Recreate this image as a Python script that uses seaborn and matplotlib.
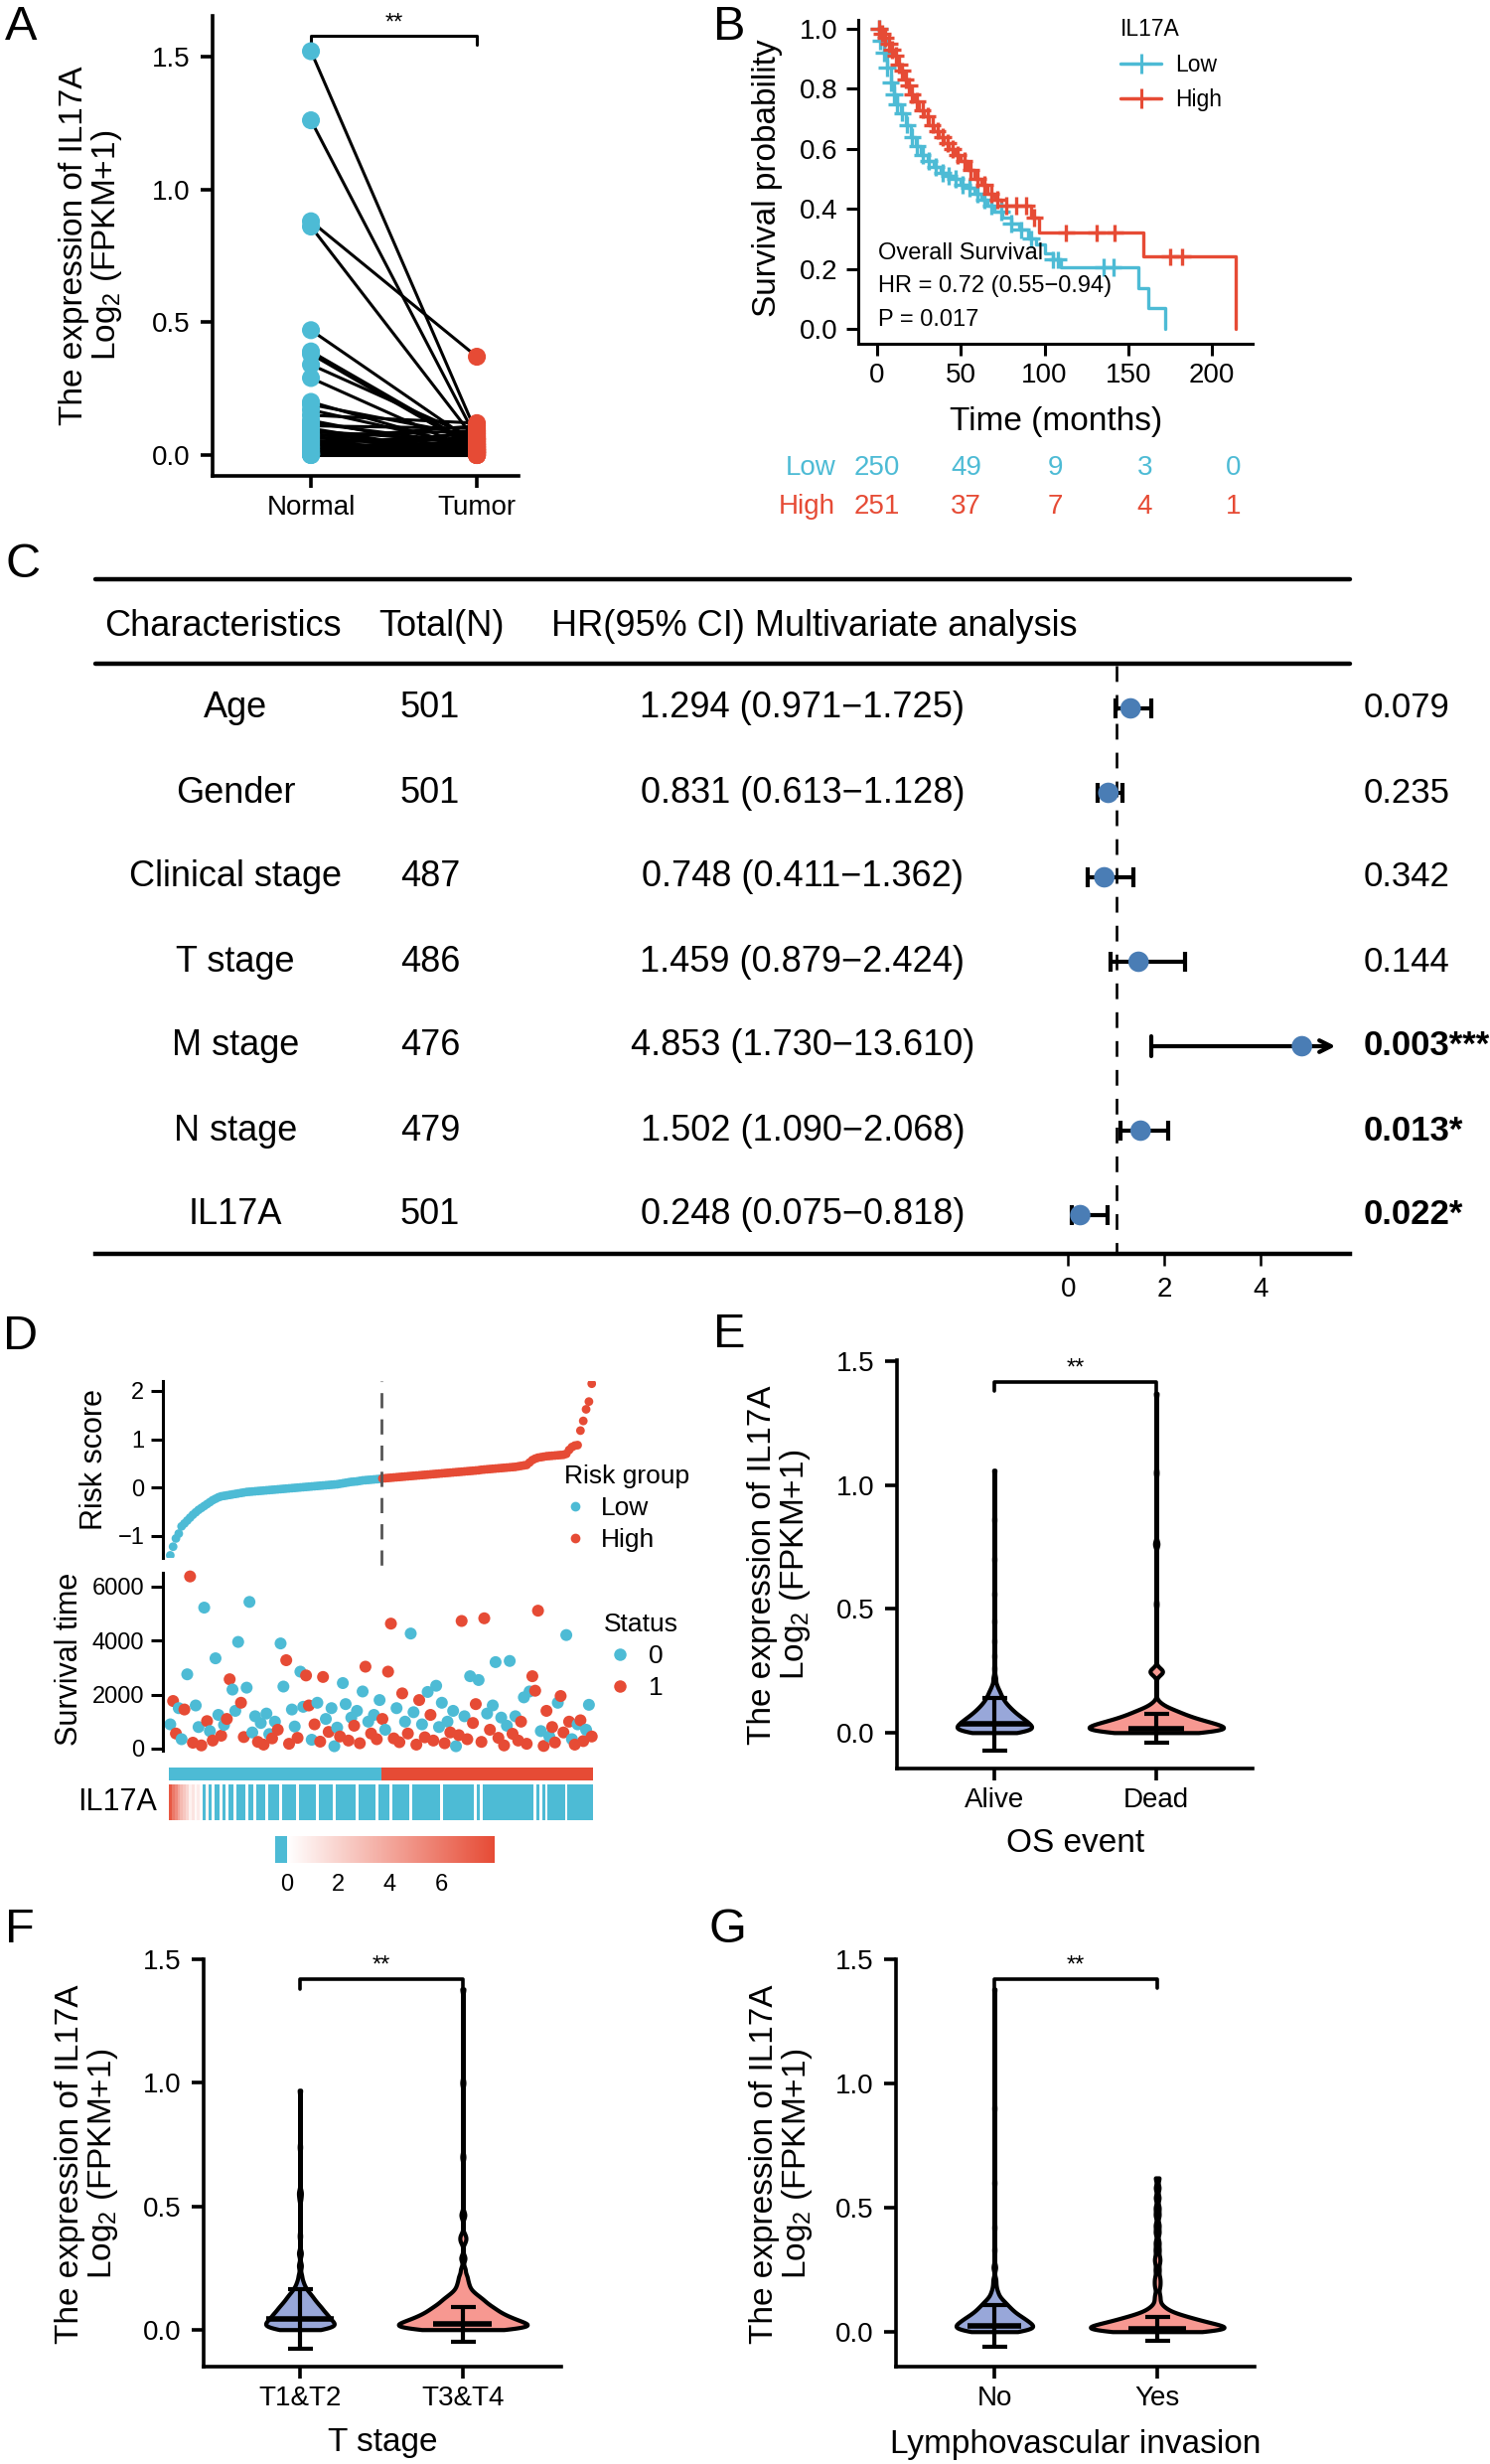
import numpy as np
import pandas as pd
import matplotlib
matplotlib.use("Agg")
import matplotlib.pyplot as plt
from matplotlib.colors import LinearSegmentedColormap, ListedColormap
from matplotlib.lines import Line2D
import seaborn as sns

# ---------------- data ----------------
# A: paired normal / tumor IL17A expression
normal_expr = [1.52, 1.26, 0.88, 0.86, 0.47, 0.39, 0.38, 0.34, 0.29, 0.20,
               0.19, 0.17, 0.15, 0.13, 0.12, 0.11, 0.10, 0.09, 0.08, 0.075,
               0.07, 0.065, 0.06, 0.055, 0.05, 0.045, 0.04, 0.035, 0.03, 0.03,
               0.025, 0.02, 0.02, 0.015, 0.01, 0.01, 0.008, 0.005, 0.004, 0.003,
               0.002, 0.001, 0.0, 0.0]
tumor_expr = [0.08, 0.06, 0.37, 0.05, 0.04, 0.03, 0.02, 0.06, 0.01, 0.02,
              0.07, 0.03, 0.12, 0.01, 0.04, 0.10, 0.00, 0.05, 0.02, 0.09,
              0.01, 0.03, 0.11, 0.00, 0.06, 0.02, 0.08, 0.01, 0.04, 0.00,
              0.03, 0.07, 0.01, 0.05, 0.02, 0.00, 0.09, 0.03, 0.01, 0.06,
              0.02, 0.04, 0.00, 0.01]

# B: Kaplan-Meier steps (months, survival) and censor times
km_low_t = [0, 2, 4, 6, 8, 10, 12, 14, 17, 20, 23, 26, 30, 34, 38, 42, 46, 50, 54, 58,
            62, 66, 70, 75, 80, 85, 90, 95, 100, 105, 110, 156, 162, 172]
km_low_s = [1.0, 0.96, 0.92, 0.87, 0.82, 0.78, 0.75, 0.72, 0.68, 0.64, 0.61, 0.58, 0.56,
            0.54, 0.52, 0.51, 0.50, 0.48, 0.47, 0.45, 0.43, 0.41, 0.39, 0.37, 0.35, 0.33,
            0.30, 0.28, 0.25, 0.23, 0.206, 0.137, 0.069, 0.0]
km_high_t = [0, 2, 4, 6, 8, 10, 12, 14, 16, 18, 20, 22, 25, 28, 31, 34, 37, 40, 43, 46,
             50, 54, 58, 62, 66, 70, 74, 92, 97, 159, 214]
km_high_s = [1.0, 0.985, 0.97, 0.95, 0.93, 0.91, 0.88, 0.86, 0.83, 0.81, 0.78, 0.76, 0.73,
             0.71, 0.68, 0.66, 0.64, 0.62, 0.60, 0.58, 0.56, 0.53, 0.50, 0.48, 0.45, 0.43,
             0.41, 0.37, 0.32, 0.24, 0.0]
cens_low = [1, 2, 4, 6, 8, 10, 12, 15, 18, 21, 24, 27, 31, 35, 39, 43, 47, 51, 55, 60,
            64, 68, 74, 80, 86, 92, 105, 108, 135, 141]
cens_high = [1, 3, 5, 7, 9, 11, 13, 15, 17, 19, 21, 24, 27, 30, 33, 36, 39, 42, 45, 48,
             52, 56, 60, 64, 68, 72, 77, 83, 89, 94, 113, 131, 142, 175, 182]
risk_times = [0, 50, 100, 150, 200]
at_risk_low = [250, 49, 9, 3, 0]
at_risk_high = [251, 37, 7, 4, 1]
km_text = ["Overall Survival", "HR = 0.72 (0.55\u22120.94)", "P = 0.017"]

# C: multivariate Cox table
characteristics = ["Age", "Gender", "Clinical stage", "T stage", "M stage", "N stage", "IL17A"]
total_n = [501, 501, 487, 486, 476, 479, 501]
hr = [1.294, 0.831, 0.748, 1.459, 4.853, 1.502, 0.248]
hr_lo = [0.971, 0.613, 0.411, 0.879, 1.730, 1.090, 0.075]
hr_hi = [1.725, 1.128, 1.362, 2.424, 13.610, 2.068, 0.818]
p_text = ["0.079", "0.235", "0.342", "0.144", "0.003***", "0.013*", "0.022*"]
p_bold = [False, False, False, False, True, True, True]

# D: risk score (sorted), survival time (days), status, IL17A expression
risk_low = [-1.40, -1.22, -1.05, -0.95, -0.80, -0.74, -0.68, -0.62, -0.56, -0.51,
            -0.46, -0.42, -0.38, -0.34, -0.30, -0.26, -0.23, -0.20, -0.18, -0.17,
            -0.16, -0.15, -0.14, -0.13, -0.12, -0.11, -0.10, -0.09, -0.085, -0.08,
            -0.075, -0.07, -0.065, -0.06, -0.055, -0.05, -0.045, -0.04, -0.035, -0.03,
            -0.025, -0.02, -0.015, -0.01, -0.005, 0.00, 0.005, 0.01, 0.015, 0.02,
            0.025, 0.03, 0.035, 0.04, 0.045, 0.05, 0.055, 0.06, 0.065, 0.07,
            0.08, 0.09, 0.10, 0.11, 0.12, 0.125, 0.13, 0.14, 0.15, 0.155,
            0.16, 0.165, 0.17, 0.175, 0.18]
risk_high = [0.19, 0.195, 0.20, 0.205, 0.21, 0.215, 0.22, 0.225, 0.23, 0.235,
             0.24, 0.245, 0.25, 0.255, 0.26, 0.265, 0.27, 0.275, 0.28, 0.285,
             0.29, 0.295, 0.30, 0.305, 0.31, 0.315, 0.32, 0.325, 0.33, 0.335,
             0.34, 0.345, 0.35, 0.355, 0.36, 0.37, 0.375, 0.38, 0.385, 0.39,
             0.395, 0.40, 0.405, 0.41, 0.415, 0.42, 0.425, 0.43, 0.44, 0.45,
             0.46, 0.47, 0.52, 0.57, 0.60, 0.62, 0.63, 0.64, 0.65, 0.655,
             0.66, 0.665, 0.67, 0.675, 0.68, 0.70, 0.78, 0.84, 0.87, 0.88,
             1.18, 1.38, 1.62, 1.78, 2.15]
surv_days = [900, 1765, 560, 1500, 350, 1450, 2753, 6380, 220, 1600,
             800, 120, 5225, 1020, 650, 300, 3346, 1250, 480, 880,
             1100, 2570, 2188, 1400, 3953, 1700, 430, 2259, 5436, 600,
             1200, 250, 950, 150, 1300, 540, 380, 1000, 700, 3897,
             2300, 3276, 180, 1450, 820, 400, 2852, 1550, 2711, 1600,
             330, 900, 1700, 260, 2655, 1100, 620, 1500, 90, 780,
             450, 2429, 1650, 300, 1150, 850, 1400, 200, 2118, 3036,
             1000, 560, 1250, 350, 1800,
             1100, 700, 2852, 4631, 380, 1500, 240, 2047, 1000, 560,
             4264, 1350, 150, 1800, 900, 420, 2100, 1250, 300, 2330,
             800, 1700, 200, 1000, 600, 1400, 90, 500, 4730, 1200,
             350, 2683, 950, 1650, 2542, 250, 4829, 1300, 700, 1600,
             3205, 400, 1150, 120, 850, 3248, 550, 1200, 300, 1000,
             1900, 180, 2118, 2683, 2146, 5111, 650, 100, 1400, 450,
             800, 230, 1700, 1949, 600, 4208, 1000, 350, 150, 900,
             1050, 280, 700, 1624, 450]
surv_status = [0, 1, 1, 0, 0, 1, 0, 1, 1, 0,
               0, 1, 0, 1, 0, 1, 0, 0, 1, 0,
               1, 1, 0, 0, 0, 1, 1, 0, 0, 0,
               0, 1, 0, 1, 0, 0, 1, 0, 1, 0,
               0, 1, 1, 0, 0, 1, 0, 0, 1, 1,
               0, 1, 0, 1, 1, 0, 1, 0, 0, 0,
               1, 0, 0, 1, 0, 1, 0, 1, 0, 1,
               0, 1, 0, 1, 0,
               1, 0, 1, 1, 1, 0, 1, 1, 0, 1,
               0, 0, 1, 1, 0, 1, 0, 1, 1, 0,
               0, 0, 1, 0, 1, 0, 0, 1, 1, 0,
               1, 0, 1, 1, 0, 1, 1, 0, 1, 0,
               0, 1, 0, 1, 0, 0, 1, 0, 1, 1,
               0, 1, 0, 1, 1, 1, 0, 1, 1, 0,
               1, 1, 0, 1, 1, 0, 1, 0, 1, 0,
               1, 1, 0, 0, 1]
il17a_expr = [7.5, 6.0, 5.2, 4.0, 3.1, 2.5, 1.8, 0.6, 1.2, 0.3, 0.9, 0.2, 0, 0.4, 0,
              0.2, 0, 0, 0.3, 0, 0.1, 0, 0, 0.2, 0, 0, 0, 0.1, 0, 0,
              0.2, 0, 0, 0, 0.1, 0, 0, 0, 0, 0.1, 0, 0, 0, 0, 0,
              0.2, 0, 0, 0, 0, 0, 0, 0.1, 0, 0, 0, 0, 0, 0.1, 0,
              0, 0, 0, 0, 0, 0, 0.1, 0, 0, 0, 0, 0, 0, 0.1, 0,
              0, 0, 0, 0.1, 0, 0, 0, 0, 0, 0, 0.1, 0, 0, 0, 0,
              0, 0, 0, 0, 0, 0, 0.1, 0, 0, 0, 0, 0, 0, 0, 0,
              0, 0, 0, 0.1, 0, 0.1, 0, 0, 0, 0, 0, 0, 0, 0, 0,
              0, 0, 0, 0, 0, 0, 0, 0, 0, 0.1, 0, 0.1, 0, 0.1, 0,
              0, 0, 0, 0, 0, 0.1, 0, 0, 0, 0, 0, 0, 0, 0, 0]
cbar_ticks = [0, 2, 4, 6]

# E-G: violin samples (value + how many patients) and mean / sd of the error bars
os_cats = ["Alive", "Dead"]
os_alive = [0.001, 0.003, 0.006, 0.008, 0.010, 0.013, 0.015, 0.018, 0.020, 0.023,
            0.025, 0.028, 0.031, 0.033, 0.036, 0.039, 0.042, 0.045, 0.048, 0.051,
            0.054, 0.058, 0.061, 0.065, 0.069, 0.073, 0.077, 0.082, 0.087, 0.092,
            0.098, 0.104, 0.111, 0.119, 0.128, 0.139, 0.152, 0.169, 0.19, 0.22,
            0.26, 0.31, 0.37, 0.45, 0.56, 0.70, 0.86, 1.06]
os_alive_n = [5, 5, 5, 5, 5, 5, 5, 5, 5, 5,
              5, 5, 5, 5, 5, 5, 5, 5, 5, 5,
              5, 5, 5, 5, 5, 5, 5, 5, 5, 5,
              5, 5, 5, 5, 5, 5, 5, 5, 3, 2,
              1, 1, 1, 1, 1, 1, 1, 1]
os_dead = [0.001, 0.002, 0.004, 0.006, 0.007, 0.009, 0.011, 0.013, 0.014, 0.016,
           0.018, 0.020, 0.022, 0.024, 0.026, 0.028, 0.030, 0.032, 0.034, 0.036,
           0.039, 0.041, 0.044, 0.046, 0.049, 0.052, 0.055, 0.059, 0.062, 0.066,
           0.070, 0.075, 0.080, 0.086, 0.092, 0.100, 0.110, 0.122, 0.24, 0.245,
           0.25, 0.255, 0.52, 0.76, 0.765, 1.05, 1.37]
os_dead_n = [5, 5, 5, 5, 5, 5, 5, 5, 5, 5,
             5, 5, 5, 5, 5, 5, 5, 5, 5, 5,
             5, 5, 5, 5, 5, 5, 5, 5, 5, 5,
             5, 5, 5, 5, 5, 4, 3, 2, 2, 2,
             2, 2, 1, 1, 1, 1, 1]
os_mean = [0.035, 0.018]
os_sd = [0.105, 0.058]

t_cats = ["T1&T2", "T3&T4"]
t_12 = [0.001, 0.004, 0.007, 0.010, 0.013, 0.016, 0.019, 0.022, 0.025, 0.029,
        0.032, 0.035, 0.039, 0.042, 0.046, 0.050, 0.054, 0.058, 0.062, 0.066,
        0.070, 0.075, 0.080, 0.085, 0.090, 0.095, 0.101, 0.107, 0.114, 0.121,
        0.129, 0.138, 0.148, 0.160, 0.175, 0.195, 0.22, 0.26, 0.31, 0.38,
        0.53, 0.55, 0.56, 0.74, 0.97]
t_12_n = [5, 5, 5, 5, 5, 5, 5, 5, 5, 5,
          5, 5, 5, 5, 5, 5, 5, 5, 5, 5,
          5, 5, 5, 5, 5, 5, 5, 5, 5, 5,
          5, 5, 5, 4, 4, 3, 2, 2, 2, 1,
          1, 1, 1, 1, 1]
t_34 = [0.001, 0.003, 0.005, 0.007, 0.009, 0.011, 0.013, 0.016, 0.018, 0.020,
        0.023, 0.025, 0.028, 0.030, 0.033, 0.036, 0.039, 0.042, 0.045, 0.048,
        0.052, 0.055, 0.059, 0.063, 0.067, 0.071, 0.076, 0.081, 0.085, 0.091,
        0.096, 0.102, 0.109, 0.116, 0.124, 0.132, 0.142, 0.152, 0.165, 0.179,
        0.196, 0.217, 0.245, 0.29, 0.36, 0.38, 0.46, 0.47, 0.70, 1.00, 1.38]
t_34_n = [5, 5, 5, 5, 5, 5, 5, 5, 5, 5,
          5, 5, 5, 5, 5, 5, 5, 5, 5, 5,
          5, 5, 5, 5, 5, 5, 5, 5, 5, 5,
          5, 5, 5, 5, 5, 5, 4, 4, 3, 3,
          3, 3, 2, 2, 2, 2, 1, 1, 1, 1, 1]
t_mean = [0.044, 0.022]
t_sd = [0.122, 0.072]

lvi_cats = ["No", "Yes"]
lvi_no = [0.001, 0.003, 0.005, 0.008, 0.010, 0.012, 0.015, 0.017, 0.020, 0.022,
          0.025, 0.027, 0.030, 0.032, 0.035, 0.038, 0.041, 0.044, 0.047, 0.050,
          0.053, 0.057, 0.060, 0.064, 0.068, 0.072, 0.077, 0.082, 0.087, 0.093,
          0.099, 0.106, 0.114, 0.123, 0.134, 0.147, 0.163, 0.185, 0.21, 0.26,
          0.33, 0.42, 0.60, 0.90, 1.38]
lvi_no_n = [5, 5, 5, 5, 5, 5, 5, 5, 5, 5,
            5, 5, 5, 5, 5, 5, 5, 5, 5, 5,
            5, 5, 5, 5, 5, 5, 5, 5, 5, 5,
            5, 5, 5, 5, 4, 3, 3, 2, 2, 2,
            1, 1, 1, 1, 1]
lvi_yes = [0.001, 0.002, 0.004, 0.005, 0.007, 0.009, 0.010, 0.012, 0.014, 0.016,
           0.018, 0.020, 0.022, 0.024, 0.026, 0.028, 0.031, 0.033, 0.036, 0.039,
           0.042, 0.045, 0.048, 0.052, 0.056, 0.060, 0.065, 0.071, 0.078, 0.087,
           0.098, 0.11, 0.13, 0.15, 0.18, 0.20, 0.22, 0.25, 0.28, 0.30,
           0.33, 0.36, 0.40, 0.43, 0.47, 0.50, 0.54, 0.58, 0.62]
lvi_yes_n = [5, 5, 5, 5, 5, 5, 5, 5, 5, 5,
             5, 5, 5, 5, 5, 5, 5, 5, 5, 5,
             5, 5, 5, 5, 5, 5, 5, 5, 4, 4,
             3, 2, 2, 2, 2, 2, 2, 2, 2, 2,
             2, 2, 2, 2, 2, 2, 2, 2, 2]
lvi_mean = [0.025, 0.012]
lvi_sd = [0.085, 0.049]

# ---------------- style ----------------
BLUE = "#4DBBD5"
RED = "#E64B35"
DOT = "#4A7DB5"
V_FILL = ["#98A7D9", "#F79891"]
W, H = 1500, 2480

sns.set_theme(style="ticks", rc={"axes.edgecolor": "black", "xtick.color": "black",
                                 "ytick.color": "black", "text.color": "black",
                                 "axes.labelcolor": "black"})
plt.rcParams["font.family"] = ["Liberation Sans", "DejaVu Sans"]
plt.rcParams["mathtext.fontset"] = "custom"
plt.rcParams["mathtext.rm"] = "Liberation Sans"
plt.rcParams["mathtext.default"] = "regular"

EXPR_LABEL = "The expression of IL17A\n$\\mathregular{Log_{2}}$ (FPKM+1)"


def box(l, t, r, b):
    return [l / W, 1 - b / H, (r - l) / W, (b - t) / H]


def ftext(x, y, s, **kw):
    fig.text(x / W, 1 - y / H, s, **kw)


def style_axes(ax, lw=2.6, size=20, xpad=5, ypad=8):
    sns.despine(ax=ax)
    for s in ["left", "bottom"]:
        ax.spines[s].set_linewidth(lw)
    ax.tick_params(axis="both", length=8.5, width=lw, labelsize=size)
    ax.tick_params(axis="x", pad=xpad)
    ax.tick_params(axis="y", pad=ypad)
    ax.set_xlabel("")
    ax.set_ylabel("")


fig = plt.figure(figsize=(15, 24.8), dpi=100)

# ---------------- A ----------------
axA = fig.add_axes(box(214, 16, 522, 479))
n = len(normal_expr)
dfA = pd.DataFrame({"pair": list(range(n)) * 2,
                    "pos": [0] * n + [1] * n,
                    "value": normal_expr + tumor_expr,
                    "group": ["Normal"] * n + ["Tumor"] * n})
sns.lineplot(data=dfA, x="pos", y="value", units="pair", estimator=None,
             color="black", lw=2.2, ax=axA, legend=False)
sns.scatterplot(data=dfA, x="pos", y="value", hue="group",
                palette={"Normal": BLUE, "Tumor": RED}, s=170, edgecolor="none",
                ax=axA, legend=False, zorder=3)
axA.set_xlim(-0.593, 1.251)
axA.set_ylim(-0.0786, 1.653)
axA.set_xticks([0, 1], ["Normal", "Tumor"])
axA.set_yticks([0, 0.5, 1.0, 1.5], ["0.0", "0.5", "1.0", "1.5"])
style_axes(axA)
axA.plot([0, 0, 1, 1], [1.545, 1.58, 1.58, 1.545], color="black", lw=2.2, clip_on=False)
axA.text(0.5, 1.583, "**", ha="center", va="bottom", fontsize=17)
ftext(92, 247, EXPR_LABEL, rotation=90, ha="center", va="center", fontsize=24,
      linespacing=1.0, multialignment="center")

# ---------------- B ----------------
axB = fig.add_axes(box(864, 20, 1261, 346))
km_pal = {"Low": BLUE, "High": RED}
dfKM = pd.DataFrame({"time": km_low_t + km_high_t,
                     "surv": km_low_s + km_high_s,
                     "group": ["Low"] * len(km_low_t) + ["High"] * len(km_high_t)})
sns.lineplot(data=dfKM, x="time", y="surv", hue="group", palette=km_pal,
             estimator=None, drawstyle="steps-post", lw=2.4, ax=axB, legend=False)


def surv_at(times, surv, t):
    i = np.searchsorted(times, t, side="right") - 1
    return surv[i]


cens_rows = []
for g, ct, tt, ss in [("Low", cens_low, km_low_t, km_low_s), ("High", cens_high, km_high_t, km_high_s)]:
    for c in ct:
        cens_rows.append({"time": c, "surv": surv_at(tt, ss, c), "group": g})
dfCens = pd.DataFrame(cens_rows)
sns.scatterplot(data=dfCens, x="time", y="surv", hue="group", palette=km_pal,
                marker="+", s=160, linewidth=2.4, ax=axB, legend=False, zorder=3)
axB.set_xlim(-11.3, 224.3)
axB.set_ylim(-0.05, 1.03)
axB.set_xticks(risk_times)
axB.set_yticks([0, 0.2, 0.4, 0.6, 0.8, 1.0], ["0.0", "0.2", "0.4", "0.6", "0.8", "1.0"])
style_axes(axB, lw=2.2, ypad=6)
for txt, yy in zip(km_text, [255, 288, 322]):
    ftext(884, yy, txt, ha="left", va="center", fontsize=17)
handles = [Line2D([0], [0], color=BLUE, lw=2.5, marker="+", ms=14, mew=2.2),
           Line2D([0], [0], color=RED, lw=2.5, marker="+", ms=14, mew=2.2)]
axB.legend(handles, ["Low", "High"], title="IL17A", loc="upper left",
           bbox_to_anchor=(1128 / W, 1 - 18 / H), bbox_transform=fig.transFigure,
           frameon=False, fontsize=16.5, title_fontsize=16.5, alignment="left",
           handlelength=1.8, handletextpad=0.6, labelspacing=0.55, borderpad=0,
           borderaxespad=0)
ftext(772, 179, "Survival probability", rotation=90, ha="center", va="center", fontsize=24)
ftext(1063, 424, "Time (months)", ha="center", va="center", fontsize=24)

# risk table
axT = fig.add_axes(box(864, 450, 1261, 530))
axT.set_xlim(-10.6, 210.6)
axT.set_ylim(530, 450)
axT.axis("off")
for t, a, b in zip(risk_times, at_risk_low, at_risk_high):
    axT.text(t, 471, str(a), color=BLUE, ha="center", va="center", fontsize=20)
    axT.text(t, 510, str(b), color=RED, ha="center", va="center", fontsize=20)
axT.text(-23.4, 471, "Low", color=BLUE, ha="right", va="center", fontsize=20, clip_on=False)
axT.text(-23.4, 510, "High", color=RED, ha="right", va="center", fontsize=20, clip_on=False)

# ---------------- C ----------------
row_y = [713 + 85 * i for i in range(len(characteristics))]
tab = fig.add_axes(box(96, 583, 1359, 1262))
tab.set_xlim(96, 1359)
tab.set_ylim(1262, 583)
tab.axis("off")
tab.text(105, 630, "Characteristics", ha="left", va="center", fontsize=26)
tab.text(381, 630, "Total(N)", ha="left", va="center", fontsize=26)
tab.text(555, 630, "HR(95% CI) Multivariate analysis", ha="left", va="center", fontsize=26)
for i, yy in enumerate(row_y):
    tab.text(237, yy, characteristics[i], ha="center", va="center", fontsize=26)
    tab.text(433, yy, str(total_n[i]), ha="center", va="center", fontsize=26)
    tab.text(808, yy, f"{hr[i]:.3f} ({hr_lo[i]:.3f}\u2212{hr_hi[i]:.3f})",
             ha="center", va="center", fontsize=26)
    tab.text(1373, yy, p_text[i], ha="left", va="center", fontsize=25,
             fontweight="bold" if p_bold[i] else "normal", clip_on=False)

fx = fig.add_axes(box(96, 583, 1359, 1262))
fx.patch.set_alpha(0)
for s in ["top", "right", "left"]:
    fx.spines[s].set_visible(False)
fx.spines["bottom"].set_linewidth(3.2)
fx.axhline(583, color="black", lw=3.2, clip_on=False)
fx.axhline(668, color="black", lw=3.2, clip_on=False)
fx.plot([1, 1], [670, 1262], color="black", lw=1.9, ls=(0, (6, 5)))
xmax = 5.5
for i, yy in enumerate(row_y):
    if hr_hi[i] <= xmax:
        fx.errorbar(hr[i], yy, xerr=[[hr[i] - hr_lo[i]], [hr_hi[i] - hr[i]]], fmt="none",
                    ecolor="black", elinewidth=3, capsize=7, capthick=3, zorder=3)
    else:
        fx.annotate("", xy=(xmax + 0.05, yy), xytext=(hr_lo[i], yy),
                    arrowprops=dict(arrowstyle="->,head_length=0.7,head_width=0.35",
                                    lw=3, color="black", shrinkA=0, shrinkB=0), zorder=3)
        fx.plot([hr_lo[i], hr_lo[i]], [yy - 10, yy + 10], color="black", lw=3, zorder=3)
sns.scatterplot(x=hr, y=row_y, color=DOT, s=220, edgecolor="none", ax=fx, zorder=5, legend=False)
fx.set_xlim(-20.21, 5.85)
fx.set_ylim(1262, 583)
fx.set_yticks([])
fx.set_xticks([0, 2, 4])
fx.tick_params(axis="x", length=8.6, width=1.8, labelsize=20, pad=8)
fx.set_xlabel("")
fx.set_ylabel("")

# ---------------- D ----------------
n_low, n_high = len(risk_low), len(risk_high)
idx = np.arange(n_low + n_high)
risk_group = ["Low"] * n_low + ["High"] * n_high
xl = (-2.6, n_low + n_high + 0.5)

axR = fig.add_axes(box(164, 1390, 600, 1568))
sns.scatterplot(x=idx, y=risk_low + risk_high, hue=risk_group, palette=km_pal,
                s=40, edgecolor="none", ax=axR, legend=False)
axR.set_xlim(*xl)
axR.set_ylim(-1.452, 2.205)
axR.set_yticks([-1, 0, 1, 2], ["\u22121", "0", "1", "2"])
axR.set_xticks([])
style_axes(axR, lw=2.2, size=17, ypad=5)
axR.spines["bottom"].set_visible(False)
axR.axvline(n_low - 0.5, ymin=-1.08, ymax=1, color="#555555", lw=2, ls=(0, (5.5, 4)),
            clip_on=False)
lh = [Line2D([0], [0], ls="none", marker="o", ms=7, color=BLUE, mec="none"),
      Line2D([0], [0], ls="none", marker="o", ms=7, color=RED, mec="none")]
axR.legend(lh, ["Low", "High"], title="Risk group", loc="upper left",
           bbox_to_anchor=(568 / W, 1 - 1474 / H), bbox_transform=fig.transFigure,
           frameon=False, fontsize=19, title_fontsize=19, alignment="left",
           handlelength=0.8, handletextpad=0.6, labelspacing=0.3, borderpad=0,
           borderaxespad=0)
ftext(95, 1469, "Risk score", rotation=90, ha="center", va="center", fontsize=22)

axS = fig.add_axes(box(164, 1583, 600, 1762))
sns.scatterplot(x=idx, y=surv_days, hue=surv_status, palette={0: BLUE, 1: RED},
                s=75, edgecolor="none", ax=axS, legend=False, clip_on=False)
axS.set_xlim(*xl)
axS.set_ylim(-74, 6515)
axS.set_yticks([0, 2000, 4000, 6000])
axS.set_xticks([])
style_axes(axS, lw=2.2, size=17, ypad=5)
axS.spines["bottom"].set_visible(False)
sh = [Line2D([0], [0], ls="none", marker="o", ms=9, color=BLUE, mec="none"),
      Line2D([0], [0], ls="none", marker="o", ms=9, color=RED, mec="none")]
axS.legend(sh, ["0", "1"], title="Status", loc="upper left",
           bbox_to_anchor=(608 / W, 1 - 1623 / H), bbox_transform=fig.transFigure,
           frameon=False, fontsize=19, title_fontsize=19, alignment="left",
           handlelength=1.2, handletextpad=0.5, labelspacing=0.3, borderpad=0,
           borderaxespad=0)
ftext(70, 1670, "Survival time", rotation=90, ha="center", va="center", fontsize=22)

axG = fig.add_axes(box(170, 1779, 597, 1792))
grp_codes = np.array([[0] * n_low + [1] * n_high])
sns.heatmap(grp_codes, cmap=ListedColormap([BLUE, RED]), vmin=0, vmax=1, cbar=False,
            xticklabels=False, yticklabels=False, ax=axG)

axH = fig.add_axes(box(170, 1796, 597, 1832))
axH.set_facecolor(BLUE)
expr_cmap = LinearSegmentedColormap.from_list("il17a", ["#FFFFFF", RED])
expr_cmap.set_under(BLUE)
expr = np.array(il17a_expr, dtype=float)
expr_show = np.where(expr > 0, expr, np.nan)[None, :]
cax = fig.add_axes(box(277, 1848, 498, 1875))
sns.heatmap(expr_show, cmap=expr_cmap, vmin=0, vmax=8.07, cbar_ax=cax,
            cbar_kws=dict(orientation="horizontal", extend="min", extendrect=True,
                          extendfrac=0.057, ticks=cbar_ticks),
            xticklabels=False, yticklabels=False, ax=axH)
cb = axH.collections[0].colorbar
cb.outline.set_visible(False)
cax.tick_params(axis="x", direction="in", color="white", length=6, width=1.5,
                labelsize=17, pad=8, top=True, labeltop=False)
ftext(158, 1814, "IL17A", ha="right", va="center", fontsize=22)


# ---------------- E, F, G ----------------
def violin_panel(ax, cats, samples, counts, means, sds, widths, mline, bracket_y, legs):
    for i, (cat, vals, cnt) in enumerate(zip(cats, samples, counts)):
        obs = np.repeat(vals, cnt)
        sns.violinplot(x=[cat] * len(obs), y=obs, order=cats, color=V_FILL[i],
                       saturation=1, linecolor="black", linewidth=3, inner=None,
                       cut=0, width=widths[i], bw_method=0.013 / np.std(obs, ddof=1),
                       gridsize=800, ax=ax)
    ax.errorbar([0, 1], means, yerr=sds, fmt="none", ecolor="black", elinewidth=3,
                capsize=9, capthick=3, zorder=6)
    for i, m in enumerate(means):
        ax.hlines(m, i - mline[i] / 2, i + mline[i] / 2, color="black", lw=4, zorder=6)
    ax.plot([0, 0, 1, 1], [legs[0], bracket_y, bracket_y, legs[1]], color="black",
            lw=2.6, clip_on=False, zorder=6)
    ax.text(0.5, bracket_y + 0.01, "**", ha="center", va="bottom", fontsize=17)
    ax.set_yticks([0, 0.5, 1.0, 1.5], ["0.0", "0.5", "1.0", "1.5"])
    ax.set_xticks([0, 1], cats)
    style_axes(ax)


axE = fig.add_axes(box(903, 1369, 1261, 1780))
violin_panel(axE, os_cats, [os_alive, os_dead], [os_alive_n, os_dead_n], os_mean, os_sd,
             [0.46, 0.83], [0.43, 0.34], 1.415, [1.38, 1.36])
axE.set_xlim(-0.601, 1.595)
axE.set_ylim(-0.144, 1.504)
ftext(785, 1575, EXPR_LABEL, rotation=90, ha="center", va="center", fontsize=24,
      linespacing=1.0, multialignment="center")
ftext(1083, 1856, "OS event", ha="center", va="center", fontsize=24)

axF = fig.add_axes(box(205, 1972, 565, 2382))
violin_panel(axF, t_cats, [t_12, t_34], [t_12_n, t_34_n], t_mean, t_sd,
             [0.42, 0.79], [0.41, 0.36], 1.42, [1.38, 1.36])
axF.set_xlim(-0.591, 1.604)
axF.set_ylim(-0.149, 1.5)
ftext(88, 2178, EXPR_LABEL, rotation=90, ha="center", va="center", fontsize=24,
      linespacing=1.0, multialignment="center")
ftext(385, 2458, "T stage", ha="center", va="center", fontsize=24)

axGG = fig.add_axes(box(902, 1972, 1263, 2382))
violin_panel(axGG, lvi_cats, [lvi_no, lvi_yes], [lvi_no_n, lvi_yes_n], lvi_mean, lvi_sd,
             [0.47, 0.82], [0.33, 0.35], 1.42, [1.36, 1.385])
axGG.set_xlim(-0.604, 1.598)
axGG.set_ylim(-0.14, 1.5)
ftext(787, 2178, EXPR_LABEL, rotation=90, ha="center", va="center", fontsize=24,
      linespacing=1.0, multialignment="center")
ftext(1083, 2460, "Lymphovascular invasion", ha="center", va="center", fontsize=24)

# ---------------- panel letters ----------------
for letter, (lx, ly) in {"A": (5, 5), "B": (718, 5), "C": (5, 546), "D": (3, 1323),
                         "E": (718, 1321), "F": (5, 1920), "G": (713, 1920)}.items():
    ftext(lx, ly, letter, ha="left", va="top", fontsize=35)

fig.savefig("out.png", dpi=100)
